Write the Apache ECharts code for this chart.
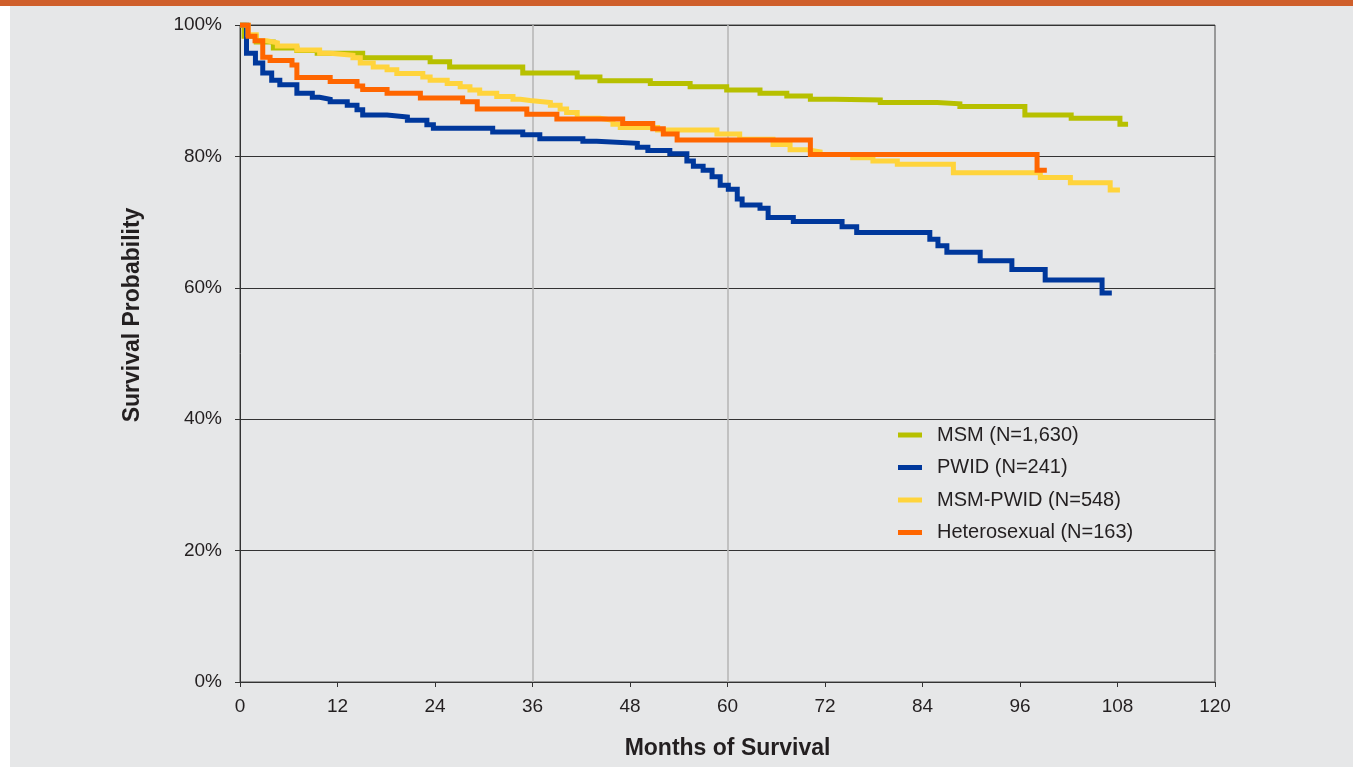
<!DOCTYPE html>
<html>
<head>
<meta charset="utf-8">
<title>Survival by transmission category</title>
<script src="https://cdn.jsdelivr.net/npm/echarts@6/dist/echarts.min.js"></script>
<style>
  html, body { margin: 0; padding: 0; background: #e6e7e8; }
  #chart { width: 1353px; height: 767px; }
</style>
</head>
<body>
<div id="chart"></div>
<script>
// x ticks (months) and y ticks (percent)
const monthTicks = [0, 12, 24, 36, 48, 60, 72, 84, 96, 108, 120]
const percentTicks = [0, 20, 40, 60, 80, 100]
const refMonths = [36, 60]

// Kaplan-Meier steps: month of each drop, survival after it (%)
const msmMonths = [0, 0.5, 2, 4.1, 7.0, 9.5, 15.1, 23.4, 25.8, 34.8, 41.5, 44.3, 50.5, 55.4, 59.9, 64, 67.3, 70.2, 73.2, 78.8, 85.8, 88.6, 96.6, 102.3, 108.3, 109.3]
const msmSurv   = [100, 98.3, 97.4, 96.5, 96.1, 95.7, 95.0, 94.4, 93.6, 92.7, 92.1, 91.5, 91.1, 90.6, 90.1, 89.6, 89.2, 88.7, 88.6, 88.2, 88.0, 87.6, 86.3, 85.8, 84.9, 84.9]

const pwidMonths = [0, 0.8, 1.9, 2.8, 3.9, 4.9, 7.0, 8.9, 9.8, 11.1, 13.2, 14.4, 15.1, 18.1, 20.6, 23.0, 23.8, 31.1, 34.8, 36.9, 42.2, 43.9, 48.9, 50.2, 52.9, 55.0, 55.8, 57.0, 58.1, 59.1, 60.1, 61.2, 61.8, 64.0, 65.0, 68.1, 74.1, 75.9, 84.9, 85.9, 87.0, 91.1, 95.0, 99.1, 106.1, 107.3]
const pwidSurv   = [100, 95.7, 94.2, 92.7, 91.6, 90.9, 89.6, 89.0, 88.7, 88.3, 87.8, 87.1, 86.3, 86.0, 85.5, 84.8, 84.3, 83.7, 83.3, 82.7, 82.3, 82.0, 81.4, 80.9, 80.4, 79.3, 78.5, 77.9, 76.9, 75.6, 75.0, 73.5, 72.6, 72.1, 70.7, 70.1, 69.3, 68.4, 67.4, 66.4, 65.4, 64.1, 62.8, 61.2, 59.2, 59.2]

const msmPwidMonths = [0, 1.0, 2.0, 3.3, 4.6, 7.0, 9.8, 11.1, 13.9, 14.8, 16.4, 18.1, 19.3, 22.5, 23.4, 25.5, 27.1, 28.3, 29.5, 31.6, 33.6, 34.5, 35.7, 38.2, 39.4, 40.2, 41.5, 44.3, 45.9, 46.8, 51.4, 58.7, 61.5, 65.6, 67.7, 69.8, 71.4, 75.4, 77.9, 80.9, 87.8, 98.5, 102.2, 107.1, 108.3]
const msmPwidSurv   = [100, 98.5, 97.6, 97.3, 96.8, 96.2, 95.7, 95.4, 95.0, 94.2, 93.6, 93.2, 92.6, 92.1, 91.6, 91.1, 90.6, 90.1, 89.6, 89.1, 88.7, 88.5, 88.2, 87.8, 87.2, 86.7, 85.8, 85.5, 84.9, 84.4, 84.0, 83.4, 82.6, 81.8, 81.0, 80.7, 80.3, 79.8, 79.3, 78.8, 77.5, 76.8, 76.0, 74.9, 74.9]

const hetMonths = [0, 1.0, 1.85, 2.8, 3.7, 6.4, 7.0, 11.1, 14.4, 15.1, 18.1, 22.2, 27.4, 29.2, 35.3, 39.0, 47.1, 50.8, 52.1, 53.8, 70.2, 98.1, 99.3]
const hetSurv   = [100, 98.3, 97.6, 95.1, 94.6, 93.9, 92.0, 91.4, 90.7, 90.2, 89.6, 88.9, 88.3, 87.2, 86.4, 85.7, 85.0, 84.2, 83.4, 82.5, 80.3, 77.9, 77.9]

const seriesNames = ['MSM (N=1,630)', 'PWID (N=241)', 'MSM-PWID (N=548)', 'Heterosexual (N=163)']
const seriesColors = ['#b7c000', '#00389c', '#ffd43c', '#ff6600']

const textColor = '#231f20'
const fontFamily = '"Liberation Sans", Arial, sans-serif'

function zip(xs, ys) {
  return xs.map((x, i) => [x, ys[i]])
}

function kmSeries(idx, xs, ys, extra) {
  return Object.assign({
    name: seriesNames[idx],
    type: 'line',
    step: 'end',
    data: zip(xs, ys),
    showSymbol: false,
    symbol: 'none',
    color: seriesColors[idx],
    lineStyle: { width: 5, color: seriesColors[idx], cap: 'butt', join: 'miter' },
    animation: false,
    z: 3 + idx
  }, extra || {})
}

const chart = echarts.init(document.getElementById('chart'), null, { renderer: 'canvas' })

chart.setOption({
  backgroundColor: '#e6e7e8',
  animation: false,
  textStyle: { fontFamily: fontFamily, color: textColor },
  graphic: [
    { type: 'rect', left: 0, top: 0, shape: { width: 1353, height: 6 }, style: { fill: '#cf5f2b' }, silent: true },
    { type: 'rect', left: 0, top: 6, shape: { width: 10, height: 761 }, style: { fill: '#ffffff' }, silent: true },
    {
      type: 'text',
      x: 133, y: 315,
      rotation: Math.PI / 2,
      style: {
        text: 'Survival Probability',
        font: 'bold 23px ' + fontFamily,
        fill: textColor,
        textAlign: 'center',
        textVerticalAlign: 'middle'
      },
      silent: true
    }
  ],
  grid: {
    left: 240,
    right: 138,
    top: 25,
    bottom: 85,
    show: true,
    borderColor: '#4a4a4a',
    borderWidth: 1,
    backgroundColor: 'transparent',
    outerBoundsMode: 'none'
  },
  legend: {
    orient: 'vertical',
    left: 898,
    top: 425,
    padding: 0,
    itemWidth: 24,
    itemHeight: 5,
    itemGap: 12.5,
    icon: 'rect',
    selectedMode: false,
    data: seriesNames,
    textStyle: { fontSize: 20, color: textColor, lineHeight: 20, padding: [0, 0, 0, 10], fontFamily: fontFamily }
  },
  xAxis: {
    type: 'value',
    min: monthTicks[0],
    max: monthTicks[monthTicks.length - 1],
    interval: 12,
    name: 'Months of Survival',
    nameLocation: 'middle',
    nameGap: 55,
    nameTextStyle: { fontSize: 23, fontWeight: 'bold', color: textColor, fontFamily: fontFamily },
    axisLine: { show: true, lineStyle: { color: '#333333', width: 1 } },
    axisTick: { show: true, length: 5, lineStyle: { color: '#333333' } },
    axisLabel: { fontSize: 19, color: textColor, margin: 15, fontFamily: fontFamily },
    splitLine: { show: false }
  },
  yAxis: {
    type: 'value',
    min: percentTicks[0],
    max: percentTicks[percentTicks.length - 1],
    interval: 20,
    axisLine: { show: true, lineStyle: { color: '#333333', width: 1 } },
    axisTick: { show: true, length: 5, lineStyle: { color: '#333333' } },
    axisLabel: { fontSize: 19, color: textColor, margin: 18, formatter: '{value}%', fontFamily: fontFamily },
    splitLine: { show: true, lineStyle: { color: '#333333', width: 1 } }
  },
  series: [
    kmSeries(0, msmMonths, msmSurv, {
      markLine: {
        silent: true,
        symbol: 'none',
        label: { show: false },
        lineStyle: { color: '#b4b4b4', width: 1.5, type: 'solid' },
        data: refMonths.map(m => ({ xAxis: m })),
        z: 1
      }
    }),
    kmSeries(1, pwidMonths, pwidSurv),
    kmSeries(2, msmPwidMonths, msmPwidSurv),
    kmSeries(3, hetMonths, hetSurv)
  ]
})
</script>
</body>
</html>
